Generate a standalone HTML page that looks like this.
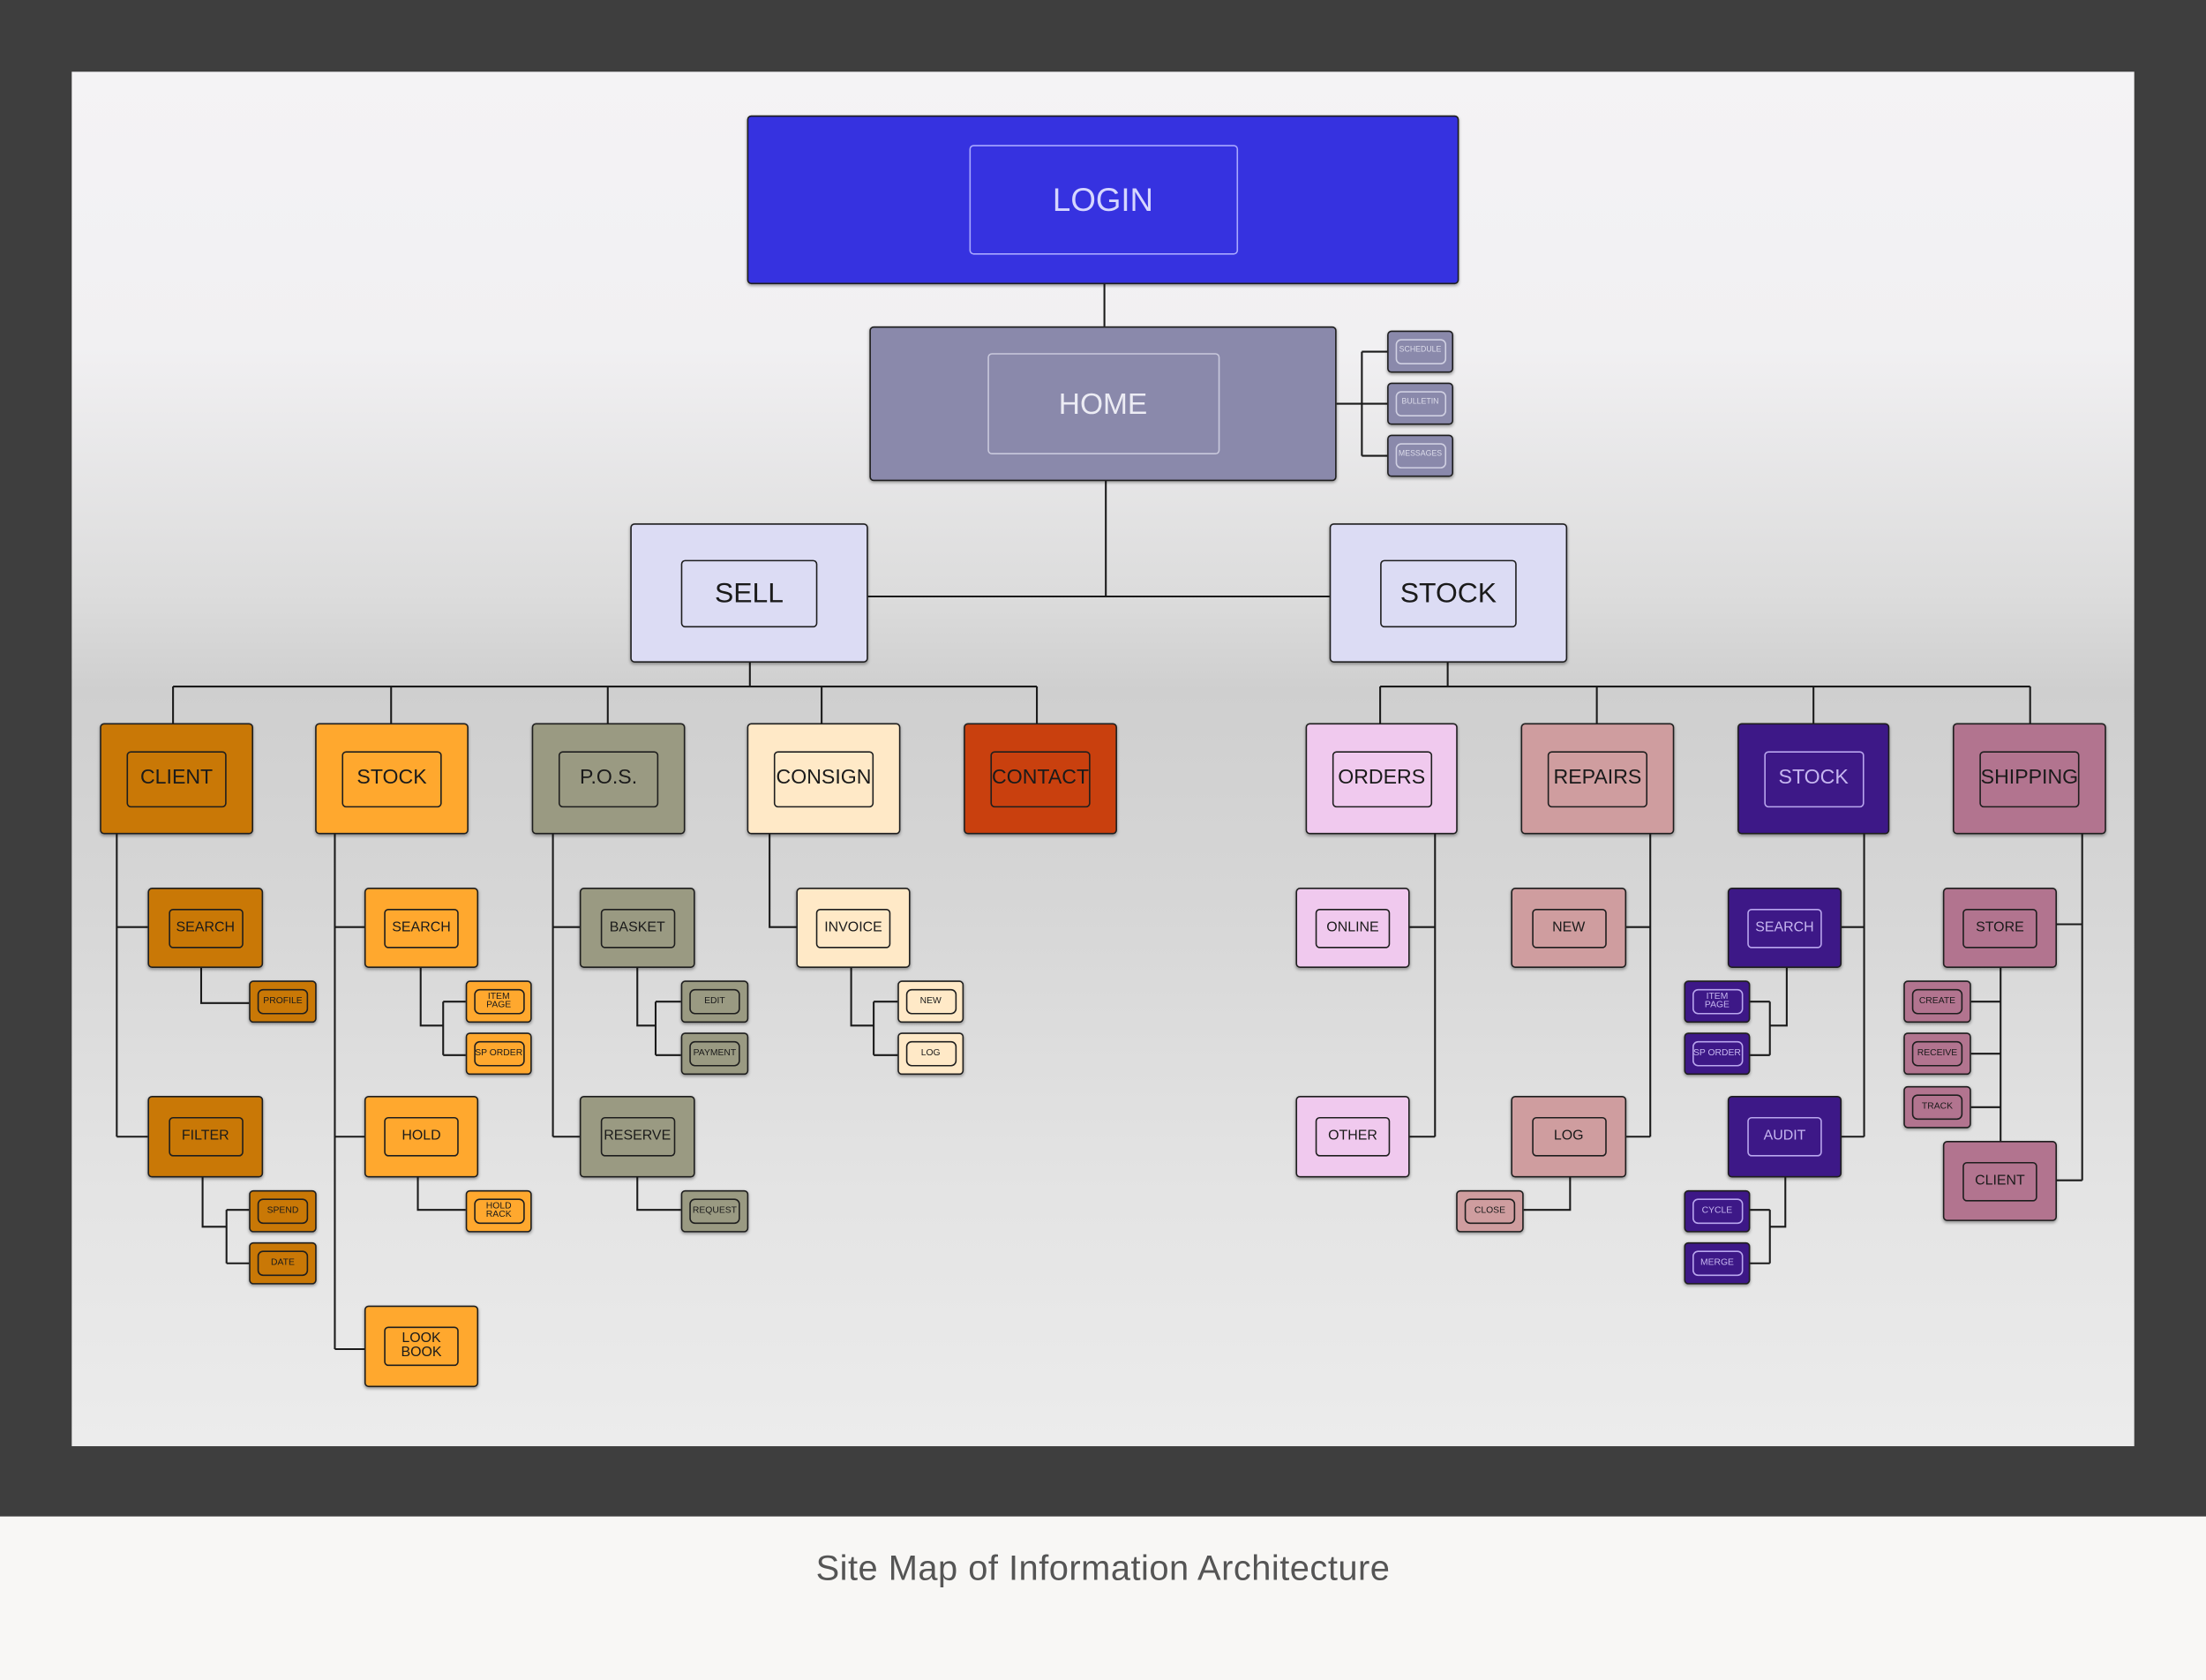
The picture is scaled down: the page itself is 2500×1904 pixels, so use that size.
<!DOCTYPE html>
<html><head><meta charset="utf-8">
<style>
html,body{margin:0;padding:0;}
body{width:2500px;height:1903px;overflow:hidden;background:#f8f7f5;font-family:"Liberation Sans",sans-serif;}
#w{position:absolute;left:0;top:0;width:1568px;height:1194px;transform:scale(1.59439);transform-origin:0 0;}
#dark{position:absolute;left:0;top:0;width:1568px;height:1078px;background:#3e3e3e;}
#panel{position:absolute;left:51px;top:51px;width:1466px;height:977px;background:linear-gradient(to bottom,#f4f3f5 0%,#f1f0f2 20%,#dcdcdc 38%,#cfcfcf 45%,#d6d6d6 60%,#e3e3e3 80%,#ececec 100%);}
#cap{position:absolute;left:0;top:1078px;width:1568px;height:116px;background:#f8f7f5;text-align:center;line-height:74px;font-size:25px;color:#555;letter-spacing:0.3px;}
.n{position:absolute;box-sizing:border-box;border:1px solid #1e1e1e;border-radius:3px;display:flex;align-items:center;justify-content:center;box-shadow:0 1px 2px rgba(0,0,0,0.35);}
.i{box-sizing:border-box;border:1px solid #1e1e1e;border-radius:3px;display:flex;align-items:center;justify-content:center;text-align:center;color:#1a1a1a;line-height:1;}
.L .i{width:97px;height:48px;font-size:20px;}
.M .i{width:71px;height:40px;font-size:14.5px;}
.S .i{width:53px;height:28px;font-size:10px;}
.T .i{width:36px;height:18px;font-size:6.5px;border-radius:4px;}
.lt .i{color:#c6b6f0;border-color:#b9a6ee;}
svg{position:absolute;left:0;top:0;}
</style></head><body>
<div id="w">
<div id="dark"></div>
<div id="panel"></div>
<svg width="1568" height="1194" fill="none" stroke="#1a1a1a" stroke-width="1.3">
<path d="M785 201V232M786 341V424M617 424H945"/>
<path d="M950 287H968M968 250V324M968 250H986M968 287H986M968 324H986"/>
<path d="M533 471V488M123 488H737M123 488V514M278 488V514M432 488V514M584 488V514M737 488V514"/>
<path d="M1029 471V488M981 488H1443M981 488V514M1135 488V514M1289 488V514M1443 488V514"/>
<path d="M83 593V808M83 659H105M83 808H105M143 688V713H177M144 837V872H161M161 860V898M161 860H177M161 898H177"/>
<path d="M238 593V959M238 659H259M238 808H259M238 959H259M299 688V729H315M315 712V750M315 712H331M315 750H331M297 837V860H331"/>
<path d="M393 593V808M393 659H412M393 808H412M453 688V729H466M466 712V750M466 712H484M466 750H484M453 837V860H484"/>
<path d="M547 593V659H566M605 688V729H621M621 712V750M621 712H638M621 750H638"/>
<path d="M1020 593V808M1002 659H1020M1002 808H1020"/>
<path d="M1173 593V808M1156 659H1173M1156 808H1173M1116 837V860H1083"/>
<path d="M1325 593V808M1309 659H1325M1309 808H1325M1270 688V729H1258M1258 712V750M1244 712H1258M1244 750H1258M1269 837V872H1258M1258 860V898M1244 860H1258M1244 898H1258"/>
<path d="M1480 593V839M1462 657H1480M1462 839H1480M1422 688V811M1401 712H1422M1401 749H1422M1401 787H1422"/>
</svg>

<div class="n" style="left:531px;top:82px;width:506px;height:120px;background:#3632e0;"><div class="i" style="width:191px;height:78px;font-size:23px;color:#d6d6ff;border-color:#a9a8ff;">LOGIN</div></div>
<div class="n" style="left:618px;top:232px;width:332px;height:110px;background:#8a89ab;"><div class="i" style="width:165px;height:72px;font-size:21px;color:#ececf4;border-color:#c9c9dc;">HOME</div></div>
<div class="n T lt" style="left:986px;top:235px;width:47px;height:30px;background:#8a89ab;"><div class="i" style="color:#dcdcea;border-color:#d0d0e2;font-size:5.5px;">SCHEDULE</div></div>
<div class="n T lt" style="left:986px;top:272px;width:47px;height:30px;background:#8a89ab;"><div class="i" style="color:#dcdcea;border-color:#d0d0e2;font-size:5.5px;">BULLETIN</div></div>
<div class="n T lt" style="left:986px;top:309px;width:47px;height:30px;background:#8a89ab;"><div class="i" style="color:#dcdcea;border-color:#d0d0e2;font-size:5.5px;">MESSAGES</div></div>

<div class="n L" style="left:448px;top:372px;width:169px;height:99px;background:#dcdcf4;"><div class="i">SELL</div></div>
<div class="n L" style="left:945px;top:372px;width:169px;height:99px;background:#dcdcf4;"><div class="i">STOCK</div></div>

<div class="n M" style="left:71px;top:514px;width:109px;height:79px;background:#c97806;"><div class="i">CLIENT</div></div>
<div class="n M" style="left:224px;top:514px;width:109px;height:79px;background:#ffa82e;"><div class="i">STOCK</div></div>
<div class="n M" style="left:378px;top:514px;width:109px;height:79px;background:#9a9a82;"><div class="i">P.O.S.</div></div>
<div class="n M" style="left:531px;top:514px;width:109px;height:79px;background:#ffe9c7;"><div class="i">CONSIGN</div></div>
<div class="n M" style="left:685px;top:514px;width:109px;height:79px;background:#c9400e;"><div class="i">CONTACT</div></div>
<div class="n M" style="left:928px;top:514px;width:108px;height:79px;background:#f0c9ee;"><div class="i">ORDERS</div></div>
<div class="n M" style="left:1081px;top:514px;width:109px;height:79px;background:#cf9d9f;"><div class="i">REPAIRS</div></div>
<div class="n M lt" style="left:1235px;top:514px;width:108px;height:79px;background:#3d1887;"><div class="i">STOCK</div></div>
<div class="n M" style="left:1388px;top:514px;width:109px;height:79px;background:#b2748f;"><div class="i">SHIPPING</div></div>

<!-- client -->
<div class="n S" style="left:105px;top:631px;width:82px;height:57px;background:#c97806;"><div class="i">SEARCH</div></div>
<div class="n S" style="left:105px;top:779px;width:82px;height:58px;background:#c97806;"><div class="i">FILTER</div></div>
<div class="n T" style="left:177px;top:697px;width:48px;height:30px;background:#c97806;"><div class="i">PROFILE</div></div>
<div class="n T" style="left:177px;top:846px;width:48px;height:30px;background:#c97806;"><div class="i">SPEND</div></div>
<div class="n T" style="left:177px;top:883px;width:48px;height:30px;background:#c97806;"><div class="i">DATE</div></div>
<!-- stock left -->
<div class="n S" style="left:259px;top:631px;width:81px;height:57px;background:#ffa82e;"><div class="i">SEARCH</div></div>
<div class="n S" style="left:259px;top:779px;width:81px;height:58px;background:#ffa82e;"><div class="i">HOLD</div></div>
<div class="n S" style="left:259px;top:928px;width:81px;height:58px;background:#ffa82e;"><div class="i">LOOK<br>BOOK</div></div>
<div class="n T" style="left:331px;top:697px;width:47px;height:30px;background:#ffa82e;"><div class="i">ITEM<br>PAGE</div></div>
<div class="n T" style="left:331px;top:734px;width:47px;height:30px;background:#ffa82e;"><div class="i">SP ORDER</div></div>
<div class="n T" style="left:331px;top:846px;width:47px;height:30px;background:#ffa82e;"><div class="i">HOLD<br>RACK</div></div>
<!-- pos -->
<div class="n S" style="left:412px;top:631px;width:82px;height:57px;background:#9a9a82;"><div class="i">BASKET</div></div>
<div class="n S" style="left:412px;top:779px;width:82px;height:58px;background:#9a9a82;"><div class="i">RESERVE</div></div>
<div class="n T" style="left:484px;top:697px;width:48px;height:30px;background:#9a9a82;"><div class="i">EDIT</div></div>
<div class="n T" style="left:484px;top:734px;width:48px;height:30px;background:#9a9a82;"><div class="i">PAYMENT</div></div>
<div class="n T" style="left:484px;top:846px;width:48px;height:30px;background:#9a9a82;"><div class="i">REQUEST</div></div>
<!-- consign -->
<div class="n S" style="left:566px;top:631px;width:81px;height:57px;background:#ffe9c7;"><div class="i">INVOICE</div></div>
<div class="n T" style="left:638px;top:697px;width:47px;height:30px;background:#ffe9c7;"><div class="i">NEW</div></div>
<div class="n T" style="left:638px;top:734px;width:47px;height:30px;background:#ffe9c7;"><div class="i">LOG</div></div>
<!-- orders -->
<div class="n S" style="left:921px;top:631px;width:81px;height:57px;background:#f0c9ee;"><div class="i">ONLINE</div></div>
<div class="n S" style="left:921px;top:779px;width:81px;height:58px;background:#f0c9ee;"><div class="i">OTHER</div></div>
<!-- repairs -->
<div class="n S" style="left:1074px;top:631px;width:82px;height:57px;background:#cf9d9f;"><div class="i">NEW</div></div>
<div class="n S" style="left:1074px;top:779px;width:82px;height:58px;background:#cf9d9f;"><div class="i">LOG</div></div>
<div class="n T" style="left:1035px;top:846px;width:48px;height:30px;background:#cf9d9f;"><div class="i">CLOSE</div></div>
<!-- stock right -->
<div class="n S lt" style="left:1228px;top:631px;width:81px;height:57px;background:#3d1887;"><div class="i">SEARCH</div></div>
<div class="n S lt" style="left:1228px;top:779px;width:81px;height:58px;background:#3d1887;"><div class="i">AUDIT</div></div>
<div class="n T lt" style="left:1197px;top:697px;width:47px;height:30px;background:#3d1887;"><div class="i">ITEM<br>PAGE</div></div>
<div class="n T lt" style="left:1197px;top:734px;width:47px;height:30px;background:#3d1887;"><div class="i">SP ORDER</div></div>
<div class="n T lt" style="left:1197px;top:846px;width:47px;height:30px;background:#3d1887;"><div class="i">CYCLE</div></div>
<div class="n T lt" style="left:1197px;top:883px;width:47px;height:30px;background:#3d1887;"><div class="i">MERGE</div></div>
<!-- shipping -->
<div class="n S" style="left:1381px;top:631px;width:81px;height:57px;background:#b2748f;"><div class="i">STORE</div></div>
<div class="n S" style="left:1381px;top:811px;width:81px;height:57px;background:#b2748f;"><div class="i">CLIENT</div></div>
<div class="n T" style="left:1353px;top:697px;width:48px;height:30px;background:#b2748f;"><div class="i">CREATE</div></div>
<div class="n T" style="left:1353px;top:734px;width:48px;height:30px;background:#b2748f;"><div class="i">RECEIVE</div></div>
<div class="n T" style="left:1353px;top:772px;width:48px;height:30px;background:#b2748f;"><div class="i">TRACK</div></div>

<div id="cap">Site Map of Information Architecture</div>
</div>
</body></html>
